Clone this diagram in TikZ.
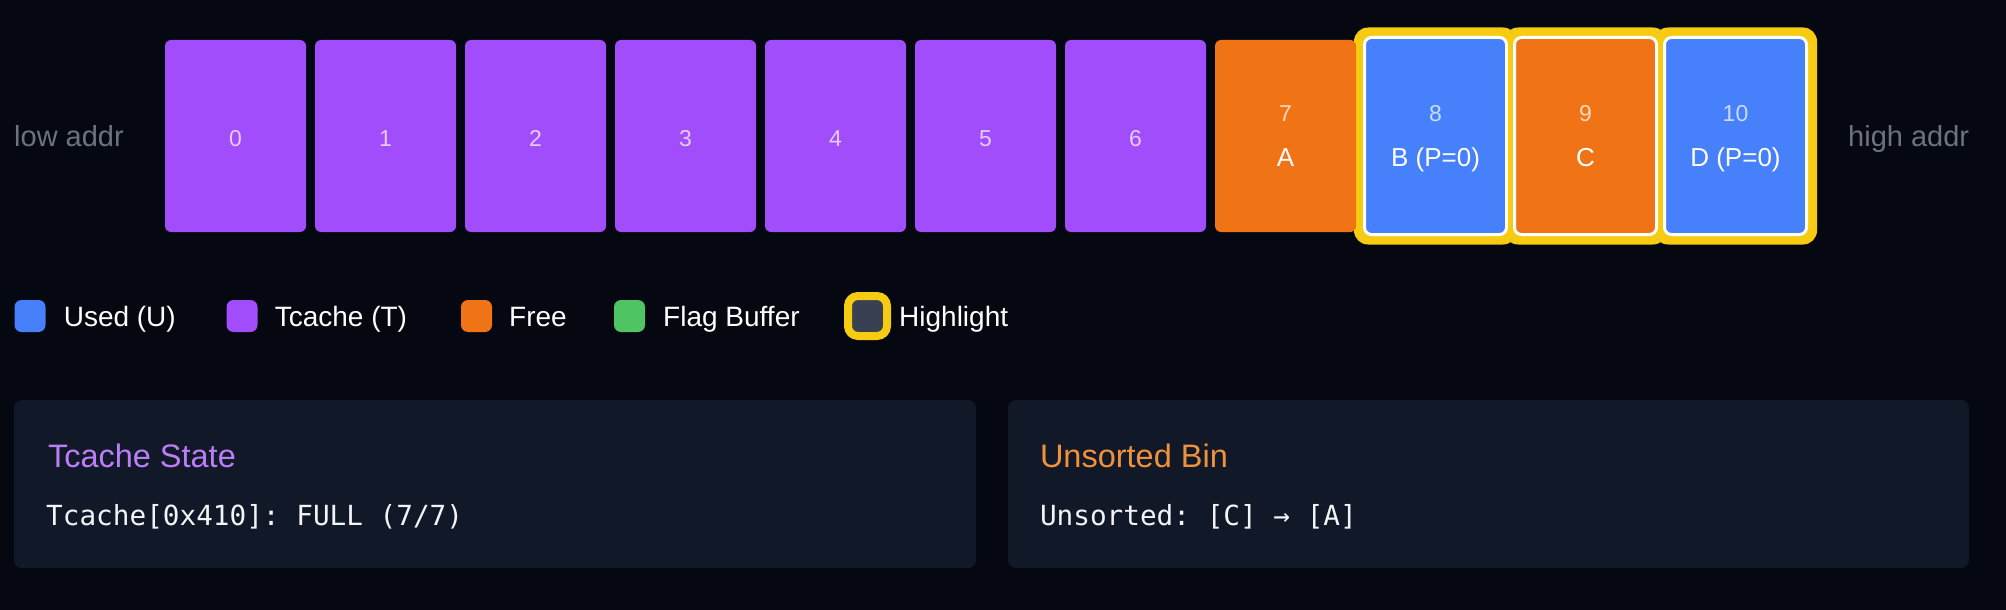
\documentclass[tikz,border=0pt]{standalone}
\usepackage{fontspec}
\setmainfont{Liberation Sans}
\newfontfamily\codefont{DejaVu Sans Mono}
\frenchspacing
\definecolor{bgc}{HTML}{050711}
\definecolor{panelc}{HTML}{111827}
\definecolor{purplec}{HTML}{A24DFC}
\definecolor{orangec}{HTML}{F07416}
\definecolor{bluec}{HTML}{4680FB}
\definecolor{greenc}{HTML}{4EC562}
\definecolor{yellowc}{HTML}{F7CB12}
\definecolor{hlgray}{HTML}{374151}
\definecolor{graytext}{HTML}{6B7280}
\definecolor{ptitle}{HTML}{BA7EF8}
\definecolor{otitle}{HTML}{F0913C}
\definecolor{codec}{HTML}{F3F4F6}
\begin{document}
\begin{tikzpicture}[x=1pt,y=-1pt,
  chunk/.style={rectangle,inner sep=0pt,minimum width=141pt,minimum height=192pt,rounded corners=6pt,draw=none},
  hlchunk/.style={rectangle,inner sep=0pt,minimum width=142pt,minimum height=197pt,rounded corners=7pt,draw=white,line width=3pt},
  ring/.style={rectangle,inner sep=0pt,minimum width=163pt,minimum height=217pt,rounded corners=14pt,fill=yellowc,draw=none},
  num/.style={anchor=base,text=white,text opacity=0.72,font=\fontsize{23}{28}\selectfont},
  lbl/.style={anchor=base,text=white,font=\fontsize{26}{31}\selectfont},
  addr/.style={anchor=base west,text=graytext,font=\fontsize{29}{35}\selectfont,inner sep=0pt},
  sq/.style={rectangle,inner sep=0pt,minimum width=31pt,minimum height=32pt,rounded corners=7pt,draw=none},
  legtxt/.style={anchor=base west,text=white,font=\fontsize{28}{34}\selectfont,inner sep=0pt},
  panel/.style={rectangle,inner sep=0pt,minimum height=168pt,rounded corners=8pt,fill=panelc,draw=none},
  ptitle/.style={anchor=base west,inner sep=0pt,font=\fontsize{32.5}{39}\selectfont},
  code/.style={anchor=base west,inner sep=0pt,text=codec,font=\codefont\fontsize{27.7}{33}\selectfont}
]
\fill[bgc] (0,0) rectangle (2006,610);
\useasboundingbox (0,0) rectangle (2006,610);

% highlight rings
\node[ring] (r8) at (1435.5,136) {};
\node[ring] (r9) at (1585.5,136) {};
\node[ring] (r10) at (1735.5,136) {};

% chunks
\node[chunk,fill=purplec] (c0) at (235.5,136) {};
\node[chunk,fill=purplec] (c1) at (385.5,136) {};
\node[chunk,fill=purplec] (c2) at (535.5,136) {};
\node[chunk,fill=purplec] (c3) at (685.5,136) {};
\node[chunk,fill=purplec] (c4) at (835.5,136) {};
\node[chunk,fill=purplec] (c5) at (985.5,136) {};
\node[chunk,fill=purplec] (c6) at (1135.5,136) {};
\node[chunk,fill=orangec] (c7) at (1285.5,136) {};
\node[hlchunk,fill=bluec] (c8) at (1435.5,136) {};
\node[hlchunk,fill=orangec] (c9) at (1585.5,136) {};
\node[hlchunk,fill=bluec] (c10) at (1735.5,136) {};

% numbers
\node[num] (n0) at (235.5,146) {0};
\node[num] (n1) at (385.5,146) {1};
\node[num] (n2) at (535.5,146) {2};
\node[num] (n3) at (685.5,146) {3};
\node[num] (n4) at (835.5,146) {4};
\node[num] (n5) at (985.5,146) {5};
\node[num] (n6) at (1135.5,146) {6};
\node[num] (n7) at (1285.5,121.7) {7};
\node[num] (n8) at (1435.5,121.7) {8};
\node[num] (n9) at (1585.5,121.7) {9};
\node[num] (n10) at (1735.5,121.7) {10};
\node[lbl] (l7) at (1285.5,166.7) {A};
\node[lbl] (l8) at (1435.5,166.7) {B (P=0)};
\node[lbl] (l9) at (1585.5,166.7) {C};
\node[lbl] (l10) at (1735.5,166.7) {D (P=0)};

\node[addr] (low) at (14,146) {low addr};
\node[addr] (high) at (1848,146) {high addr};

% legend
\node[sq,fill=bluec] (sqU) at (30,316) {};
\node[legtxt] (tU) at (63.6,326) {Used (U)};
\node[sq,fill=purplec] (sqT) at (242,316) {};
\node[legtxt] (tT) at (274.6,326) {Tcache (T)};
\node[sq,fill=orangec] (sqF) at (476.5,316) {};
\node[legtxt] (tF) at (509,326) {Free};
\node[sq,fill=greenc] (sqB) at (629.5,316) {};
\node[legtxt] (tB) at (663,326) {Flag Buffer};
\node[rectangle,inner sep=0pt,minimum width=39pt,minimum height=40pt,rounded corners=10pt,fill=hlgray,draw=yellowc,line width=8pt] (sqH) at (867.5,316) {};
\node[legtxt] (tH) at (899,326) {Highlight};

% panels
\node[panel,minimum width=962pt] (p1) at (495,484) {};
\node[panel,minimum width=961pt] (p2) at (1488.5,484) {};
\node[ptitle,text=ptitle] (t1) at (47.8,467) {Tcache State};
\node[code] (k1) at (46,525) {Tcache[0x410]: FULL (7/7)};
\node[ptitle,text=otitle] (t2) at (1039.8,467) {Unsorted Bin};
\node[code] (k2) at (1039.8,525) {Unsorted: [C] → [A]};
\end{tikzpicture}
\end{document}
